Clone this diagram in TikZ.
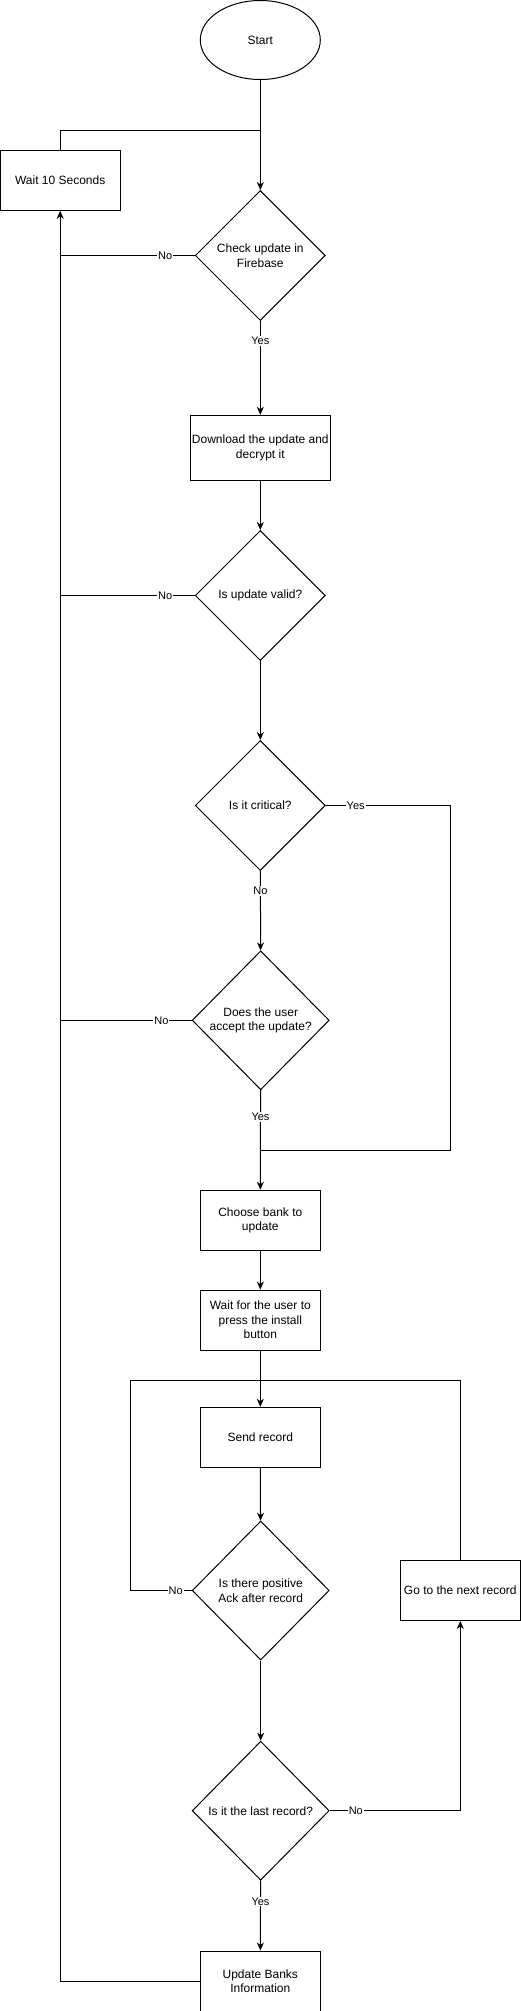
\documentclass[tikz,border=0pt]{standalone}
\usepackage{fontspec}
\setmainfont{Liberation Sans}
\usetikzlibrary{shapes.geometric,arrows.meta}

\begin{document}
\begin{tikzpicture}[x=1pt, y=-1pt, line width=1pt,
    every node/.style={font=\fontsize{12}{14.5}\selectfont, align=center},
    box/.style={draw, rectangle, minimum width=120pt, minimum height=60pt, inner sep=0pt},
    decision/.style={draw, diamond, minimum width=130pt, minimum height=130pt, inner sep=0pt},
    bigdecision/.style={decision, minimum width=137pt, minimum height=139pt},
    lbl/.style={fill=white, inner sep=1pt, font=\fontsize{11}{13}\selectfont},
    arr/.style={-{Stealth[length=8pt, width=7pt, inset=2.5pt]}}]
    \useasboundingbox (0,0) rectangle (521,2011);
    \node[draw, ellipse, minimum width=120pt, minimum height=79pt, inner sep=0pt] (start) at (260.3,40) {Start};
    \node[box] (wait) at (60.2,180.3) {Wait 10 Seconds};
    \node[decision] (check) at (260.3,255.5) {Check update in\\Firebase};
    \node[box, minimum width=140pt, minimum height=65pt] (download) at (260.3,447.8) {Download the update and\\decrypt it};
    \node[decision] (valid) at (260.3,595.5) {Is update valid?};
    \node[decision] (critical) at (260.3,805.5) {Is it critical?};
    \node[bigdecision] (accept) at (260.7,1020.3) {Does the user\\accept the update?};
    \node[box] (choose) at (260.3,1220.2) {Choose bank to\\update};
    \node[box] (press) at (260.3,1320) {Wait for the user to\\press the install\\button};
    \node[box] (send) at (260.3,1437.3) {Send record};
    \node[bigdecision] (ack) at (260.7,1590.5) {Is there positive\\Ack after record};
    \node[box] (next) at (460.3,1590.5) {Go to the next record};
    \node[bigdecision] (last) at (260.7,1810.7) {Is it the last record?};
    \node[box] (banks) at (260.3,1981) {Update Banks\\Information};

    \coordinate (top) at (260.3,130.3);
    \coordinate (critbend) at (450.3,805.5);
    \coordinate (merge) at (260.3,1150);
    \coordinate (loop) at (260.3,1380.4);
    \coordinate (ackbend) at (130,1590.5);

    \draw[arr] (start) -- (check);
    \draw (wait.north) |- (top);
    \draw (check.west) -- node[lbl, pos=0.22] {No} (check.west -| wait.south);
    \draw[arr] (check) -- node[lbl, pos=0.21] {Yes} (download);
    \draw[arr] (download) -- (valid);
    \draw (valid.west) -- node[lbl, pos=0.22] {No} (valid.west -| wait.south);
    \draw[arr] (valid) -- (critical);
    \draw (critical.east) -- node[lbl, pos=0.24] {Yes} (critbend) |- (merge);
    \draw[arr] (critical) -- node[lbl, pos=0.25] {No} (accept);
    \draw (accept.west) -- node[lbl, pos=0.23] {No} (accept.west -| wait.south);
    \draw[arr] (accept) -- node[lbl, pos=0.27] {Yes} (choose);
    \draw[arr] (choose) -- (press);
    \draw[arr] (press) -- (send);
    \draw (ack.west) -- node[lbl, pos=0.26] {No} (ackbend) |- (loop);
    \draw (next.north) |- (loop);
    \draw[arr] (send) -- (ack);
    \draw[arr] (ack) -- (last);
    \draw[arr] (last.east) -| node[lbl, pos=0.1] {No} (next.south);
    \draw[arr] (last) -- node[lbl, pos=0.3] {Yes} (banks);
    \draw[arr] (banks.west) -| (wait.south);
\end{tikzpicture}
\end{document}
